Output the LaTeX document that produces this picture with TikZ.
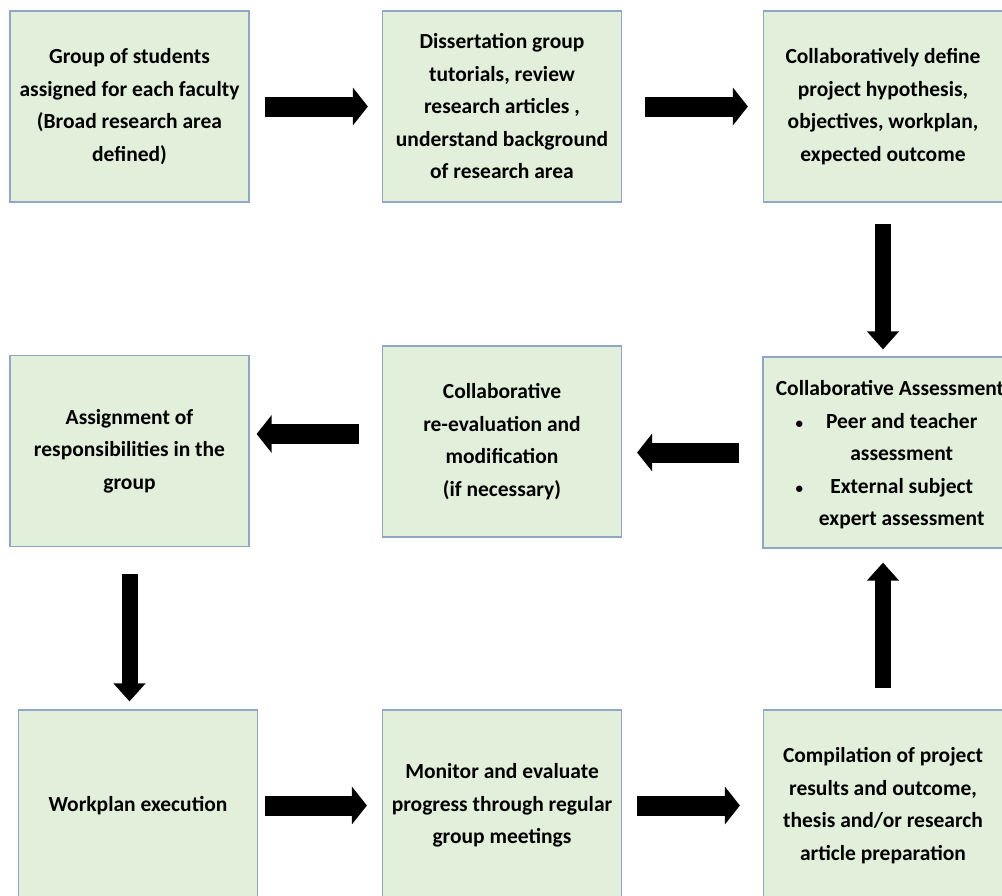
\documentclass[tikz,border=0pt]{standalone}
\usepackage{fontspec}
\setmainfont{Carlito}
\usetikzlibrary{arrows.meta}
\definecolor{boxfill}{HTML}{E2EFDA}
\definecolor{boxedge}{HTML}{8FA6C6}
\newcommand{\smallbul}{{\fontsize{15}{15}\selectfont\textbullet}}

\begin{document}
\begin{tikzpicture}[x=1pt,y=-1pt,
      mybox/.style={
         rectangle,
         draw=boxedge,
         fill=boxfill,
         line width=1.2pt,
         inner sep=0pt,
         minimum width=239pt,
         minimum height=191pt,
         align=center,
         font=\bfseries\fontsize{21.5}{32.5}\selectfont},
      harrow/.style={line width=20pt,-{Triangle[length=15pt,width=37pt]}},
      varrow/.style={line width=16pt,-{Triangle[length=18pt,width=31pt]}}
      ]
      \useasboundingbox (0,0) rectangle (1002,895);
      \node[mybox] (b1) at (129.5,106.5) {Group of students\\assigned for each faculty\\(Broad research area\\defined)};
      \node[mybox] (b2) at (502,106.5) {Dissertation group\\tutorials, review\\research articles ,\\understand background\\of research area};
      \node[mybox] (b3) at (883,106.5) {Collaboratively define\\project hypothesis,\\objectives, workplan,\\expected outcome};
      \node[mybox] (b4) at (129.5,451) {Assignment of\\responsibilities in the\\group};
      \node[mybox] (b5) at (502,441.5) {Collaborative\\re-evaluation and\\modification\\(if necessary)};
      \node[mybox,minimum width=254pt] (b6) at (890,452.5) {\rule{0pt}{26pt}Collaborative Assessment\\
         \begin{tabular}[t]{@{}r@{\hspace{16pt}}c@{}}
         \smallbul & Peer and teacher\\
                   & assessment\\
         \smallbul & External subject\\
                   & expert assessment
         \end{tabular}};
      \node[mybox] (b7) at (138,805.5) {Workplan execution};
      \node[mybox] (b8) at (502,805.5) {Monitor and evaluate\\progress through regular\\group meetings};
      \node[mybox] (b9) at (883,805.5) {Compilation of project\\results and outcome,\\thesis and/or research\\article preparation};
    \foreach \i/\j/\s/\e in {
      b1.east/b2.west/15/14,
      b2.east/b3.west/23/15,
      b6.west/b5.east/23/15,
      b7.east/b8.west/7/15,
      b8.east/b9.west/15/23}
       \draw [harrow, shorten <=\s pt, shorten >=\e pt] (\i) -- (\i -| \j);
    \draw [harrow, shorten <=23pt, shorten >=7pt] ([yshift=7.5pt]b5.west) -- ([yshift=7.5pt]b5.west -| b4.east);
    \foreach \i/\j/\s/\e in {
      b3.south/b6.north/21/7,
      b4.south/b7.north/27/8,
      b9.north/b6.south/21/14}
       \draw [varrow, shorten <=\s pt, shorten >=\e pt] (\i) -- (\i |- \j);
\end{tikzpicture}
\end{document}
